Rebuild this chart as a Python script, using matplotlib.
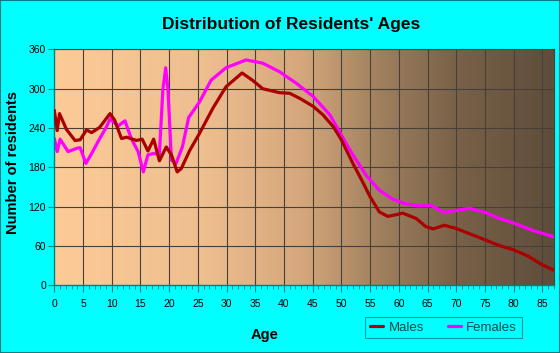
import numpy as np
import matplotlib.pyplot as plt
from matplotlib.colors import LinearSegmentedColormap
from matplotlib.ticker import MultipleLocator

plt.rcParams['font.family'] = ['Liberation Sans', 'DejaVu Sans']

title = "Distribution of Residents' Ages"

male_age = [0, 0.5, 0.9, 2.1, 3.6, 4.5, 5.6, 6.5, 7.9, 9.7, 10.5, 11.7, 12.6, 14.3,
            15.3, 16.3, 17.3, 18.3, 19.5, 20.4, 21.4, 22.1, 23.6, 25.3, 27.6, 29.9,
            32.7, 34.5, 36.3, 39.2, 41, 42.8, 45.1, 46.8, 48.6, 50, 52, 53.8, 55,
            56.6, 58.1, 60.7, 63, 64.7, 66, 67.9, 69.9, 72.5, 75.1, 77.5, 80, 82.4,
            85, 87]
male_val = [267, 236, 262, 238, 221, 222, 237, 233, 241, 262, 252, 224, 226, 221,
            223, 205, 223, 190, 211, 199, 173, 178, 206, 232, 270, 303,
            324, 313, 300, 294, 293, 285, 273, 260, 242, 222, 186, 156, 135,
            112, 105, 110, 102, 89.5, 86, 91.5, 87, 78, 69, 60.5, 54, 45,
            31, 23]

female_age = [0, 0.5, 1, 2.4, 3.9, 4.5, 5.5, 6.5, 7.6, 9.1, 9.7, 11.1, 12.3, 13.4,
              14.6, 15.5, 16.3, 17.2, 18.3, 18.9, 19.4, 19.8, 20.4, 21.2, 22.3,
              23.4, 25.3, 27.3, 29.9, 33.4, 36.3, 39.2, 42.2, 45.1, 48, 50, 52,
              54.3, 56.6, 59, 61.3, 63.6, 65.6, 67.9, 69.9, 72.3, 75.1, 77.5, 80,
              83.2, 87]
female_val = [224, 204, 223, 204, 209, 210, 186, 201, 219, 242, 254, 243, 251, 224,
              204, 173, 199, 201, 200, 298, 332, 298, 191, 186, 211,
              256, 280, 313, 332, 344, 339, 326, 308, 288, 260, 229, 199,
              168, 145, 131, 124, 121, 122, 111, 114, 117.5, 111, 102, 95,
              84, 74]

x_ticks = list(range(0, 90, 5))
y_ticks = [0, 60, 120, 180, 240, 300, 360]

bg = '#00FFFF'
teal = '#008080'

fig = plt.figure(figsize=(5.6, 3.53), dpi=100, facecolor=bg)
ax = fig.add_axes([0.097, 0.192, 0.892, 0.668])

# background gradient, peach to dark brown
cmap = LinearSegmentedColormap.from_list('bg', [
    (0.0, '#FDCB98'), (0.3, '#EEBE8F'), (0.5, '#D4A67B'),
    (0.65, '#A0805F'), (0.8, '#7A6249'), (1.0, '#5E4D3B')])
grad = np.linspace(0, 1, 256).reshape(1, -1)
ax.imshow(grad, extent=[0, 87, 0, 360], aspect='auto', cmap=cmap, zorder=0)

ax.set_xlim(0, 87)
ax.set_ylim(0, 360)

for v in x_ticks[1:]:
    ax.axvline(v, color='#45403a', lw=0.8, zorder=1)
for v in y_ticks[1:]:
    ax.axhline(v, color='#45403a', lw=0.8, zorder=1)

ax.plot(male_age, male_val, color='#AA0000', lw=2.3, label='Males',
        solid_joinstyle='round', solid_capstyle='round', zorder=3)
ax.plot(female_age, female_val, color='#FF00FF', lw=2.3, label='Females',
        solid_joinstyle='round', solid_capstyle='round', zorder=2)

ax.set_xticks(x_ticks)
ax.set_yticks(y_ticks)
ax.xaxis.set_minor_locator(MultipleLocator(1))
ax.tick_params(axis='x', which='major', length=5, color=teal, labelsize=7.5, pad=5)
ax.tick_params(axis='x', which='minor', length=3, color=teal)
ax.tick_params(axis='y', which='major', length=4, color=teal, labelsize=7.5, pad=2)

for side in ['left', 'bottom']:
    ax.spines[side].set_color(teal)
    ax.spines[side].set_linewidth(1)
for side in ['top', 'right']:
    ax.spines[side].set_color('#45403a')
    ax.spines[side].set_linewidth(0.8)

ax.set_xlabel('Age', fontsize=10.5, fontweight='bold')
ax.xaxis.set_label_coords(0.42, -0.18)
ax.set_ylabel('Number of residents', fontsize=10.5, fontweight='bold')
ax.yaxis.set_label_coords(-0.068, 0.52)

fig.text(0.52, 0.932, title, ha='center', va='center', fontsize=12.5,
         fontweight='bold')

leg = fig.legend(loc='center', bbox_to_anchor=(0.792, 0.072), ncol=2,
                 frameon=True, fancybox=False, fontsize=9.5, handlelength=1.0,
                 handletextpad=0.4, columnspacing=1.8, borderpad=0.35)
leg.get_frame().set_edgecolor(teal)
leg.get_frame().set_facecolor(bg)
leg.get_frame().set_linewidth(0.8)
for t in leg.get_texts():
    t.set_color('#004848')

# outer frame
fig.patches.append(plt.Rectangle((0, 0), 1, 1, transform=fig.transFigure,
                                 fill=False, edgecolor=teal, lw=1.5))

fig.savefig('out.png', dpi=100, facecolor=bg)
